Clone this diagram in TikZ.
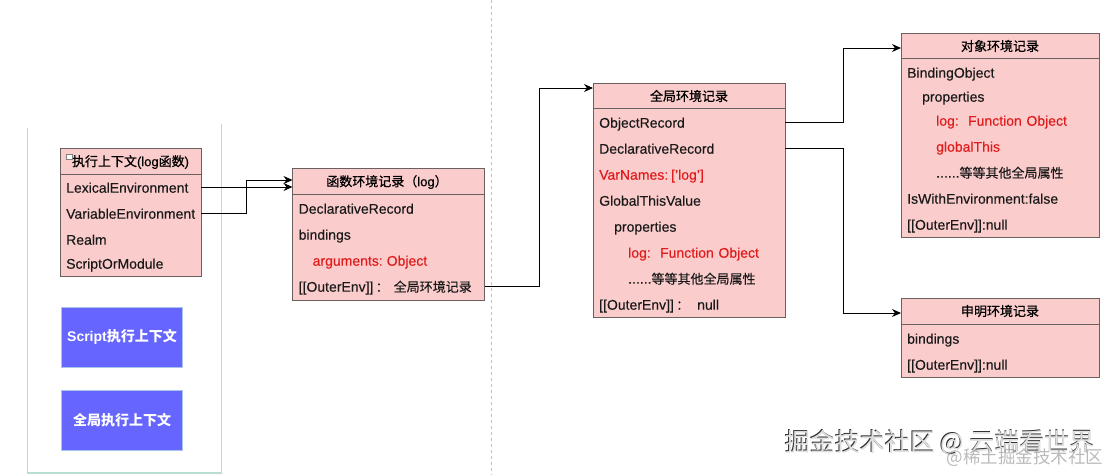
\documentclass[tikz,border=0pt]{standalone}
\usepackage{fontspec}
\setmainfont{Liberation Sans}[UprightFeatures = {FakeBold = 0.25}]
\newfontfamily\cjkfont{Noto Sans CJK SC}[UprightFeatures = {FakeBold = 0.25}]
\newfontfamily\cjkhead{Noto Sans CJK SC}[UprightFeatures = {FakeBold = 0.7}]
\newfontfamily\markfont{Noto Sans CJK SC}
\usetikzlibrary{arrows.meta,positioning,calc}
\newcommand{\zh}[1]{{\cjkfont\fontsize{13}{15}\selectfont #1}}
\newcommand{\zhh}[1]{{\cjkhead\fontsize{13}{15}\selectfont #1}}
\newcommand{\zhb}[1]{{\cjkhead\fontsize{14}{15}\selectfont #1}}
\definecolor{recfill}{HTML}{FBCCCC}
\definecolor{recline}{HTML}{6B6060}
\definecolor{recred}{HTML}{E01B1B}
\definecolor{ctxblue}{HTML}{6666FF}
\definecolor{ctxline}{HTML}{A9C4EB}
\definecolor{stackline}{HTML}{B9DDD2}
\tikzset{
    recbox/.style = {draw = recline, fill = recfill, line width = 0.9pt},
    rechead/.style = {font = \fontsize{13}{15}\selectfont, text = black},
    recrow/.style = {font = \fontsize{14}{15}\selectfont, text = black!90, anchor = west, inner sep = 0pt,
        inner xsep = 6pt, text width = #1 - 12pt, align = left, text height = 11pt, text depth = 3pt, yshift = -0.7pt},
    ctxbox/.style = {draw = ctxline, fill = ctxblue, text = white, line width = 0.8pt,
        minimum width = 121.5pt, minimum height = 60pt, font = \fontsize{14}{15}\selectfont\bfseries},
    link/.style = {draw = black, line width = 0.9pt, -{Stealth[length = 9pt, width = 8pt]}}
}
\begin{document}
\begin{tikzpicture}[x = 1pt, y = -1pt]
    \useasboundingbox (0, 0) rectangle (1112, 475);

    % divider and stack frame
    \draw[black!25, dashed, line width = 0.7pt] (491, 0) -- (491, 475);
    \draw[stackline, line width = 1.2pt] (27.5, 128) -- (27.5, 473) -- (221.5, 473) -- (221.5, 124);

    % execution context
    \node[recbox, minimum width = 141pt, minimum height = 128pt] (ctx) at (130.5, 212) {};
    \draw[recline, line width = 0.9pt] (60, 174) -- (201, 174);
    \node[rechead] (ctxhead) at (130.5, 162) {\zhh{执行上下文}(log\zhh{函数})};
    \node[draw = black!50, fill = white, minimum width = 6pt, minimum height = 5pt, inner sep = 0pt] (ctxicon) at (69, 157) {};
    \node[recrow = 141pt] (lex) at (60, 188) {LexicalEnvironment};
    \node[recrow = 141pt] (var) at (60, 214) {VariableEnvironment};
    \node[recrow = 141pt] (realm) at (60, 240) {Realm};
    \node[recrow = 141pt] (module) at (60, 264) {ScriptOrModule};

    \node[ctxbox] (script) at (122, 337) {Script\zhb{执行上下文}};
    \node[ctxbox] (globalctx) at (122, 420) {\zhb{全局执行上下文}};

    % function record
    \node[recbox, minimum width = 192pt, minimum height = 132pt] (func) at (388.5, 234) {};
    \draw[recline, line width = 0.9pt] (292.5, 194) -- (484.5, 194);
    \node[rechead] (funchead) at (387, 182) {\zhh{函数环境记录（}log\zhh{）}};
    \node[recrow = 192pt] (funcdecl) at (292.5, 209) {DeclarativeRecord};
    \node[recrow = 192pt] (funcbind) at (292.5, 235) {bindings};
    \node[recrow = 192pt, text = recred] (funcargs) at (292.5, 261) {\hspace{14pt}arguments:\hspace{4pt}Object};
    \node[recrow = 192pt] (funcouter) at (292.5, 287) {[[OuterEnv]]\,\zh{：}\hspace{5pt}\zh{全局环境记录}};
    \coordinate (funclex) at (292.5, 187);
    \coordinate (funcvar) at (292.5, 180);

    % global record
    \node[recbox, minimum width = 192pt, minimum height = 234pt] (glob) at (689, 200) {};
    \draw[recline, line width = 0.9pt] (593, 108) -- (785, 108);
    \node[rechead] (globhead) at (689, 96) {\zhh{全局环境记录}};
    \node[recrow = 192pt] (globobj) at (593, 123) {ObjectRecord};
    \node[recrow = 192pt] (globdecl) at (593, 149) {DeclarativeRecord};
    \node[recrow = 192pt, text = recred] (globvar) at (593, 175) {VarNames:\hspace{3pt}['log']};
    \node[recrow = 192pt] (globthis) at (593, 201) {GlobalThisValue};
    \node[recrow = 192pt] (globprop) at (593, 227) {\hspace{15pt}properties};
    \node[recrow = 192pt, text = recred] (globlog) at (593, 253) {\hspace{29pt}log:\ \ Function Object};
    \node[recrow = 192pt] (globetc) at (593, 279) {\hspace{29pt}......\zh{等等其他全局属性}};
    \node[recrow = 192pt] (globouter) at (593, 305) {[[OuterEnv]]\,\zh{：}\hspace{8pt}null};
    \coordinate (globin) at (593, 88);

    % object record
    \node[recbox, minimum width = 198pt, minimum height = 204pt] (obj) at (1000, 135) {};
    \draw[recline, line width = 0.9pt] (901, 58) -- (1099, 58);
    \node[rechead] (objhead) at (1000, 46) {\zhh{对象环境记录}};
    \node[recrow = 198pt] (objbind) at (901, 73) {BindingObject};
    \node[recrow = 198pt] (objprop) at (901, 97) {\hspace{15pt}properties};
    \node[recrow = 198pt, text = recred] (objlog) at (901, 121) {\hspace{29pt}log:\ \ Function Object};
    \node[recrow = 198pt, text = recred] (objthis) at (901, 147) {\hspace{29pt}globalThis};
    \node[recrow = 198pt] (objetc) at (901, 173) {\hspace{29pt}......\zh{等等其他全局属性}};
    \node[recrow = 198pt] (objwith) at (901, 199) {IsWithEnvironment:false};
    \node[recrow = 198pt] (objouter) at (901, 225) {[[OuterEnv]]:null};
    \coordinate (objin) at (901, 48);

    % declarative record
    \node[recbox, minimum width = 198pt, minimum height = 79pt] (decl) at (1000, 337.5) {};
    \draw[recline, line width = 0.9pt] (901, 324) -- (1099, 324);
    \node[rechead] (declhead) at (1000, 311) {\zhh{申明环境记录}};
    \node[recrow = 198pt] (declbind) at (901, 339) {bindings};
    \node[recrow = 198pt] (declouter) at (901, 365) {[[OuterEnv]]:null};
    \coordinate (declin) at (901, 313);

    % connectors
    \draw[link] (lex.east |- 0, 187) -- (funclex);
    \draw[link] (var.east |- 0, 213) -| (246.5, 180) -- (funcvar);
    \draw[link] (funcouter.east |- 0, 286) -| (539, 88) -- (globin);
    \draw[link] (globobj.east |- 0, 122) -| (843, 48) -- (objin);
    \draw[link] (globdecl.east |- 0, 148) -| (843, 313) -- (declin);

    % watermarks
    \node[text = black!80, font = \fontsize{25}{28}\selectfont\markfont] (markshade) at (939.3, 442.3) {掘金技术社区 @ 云端看世界};
    \node[text = black!12, font = \fontsize{25}{28}\selectfont\markfont] (mark) at (940, 443) {掘金技术社区 @ 云端看世界};
    \node[text = black!45, opacity = 0.6, font = \fontsize{17.5}{20}\selectfont\markfont] (marksite) at (1025, 458) {@稀土掘金技术社区};
\end{tikzpicture}
\end{document}
